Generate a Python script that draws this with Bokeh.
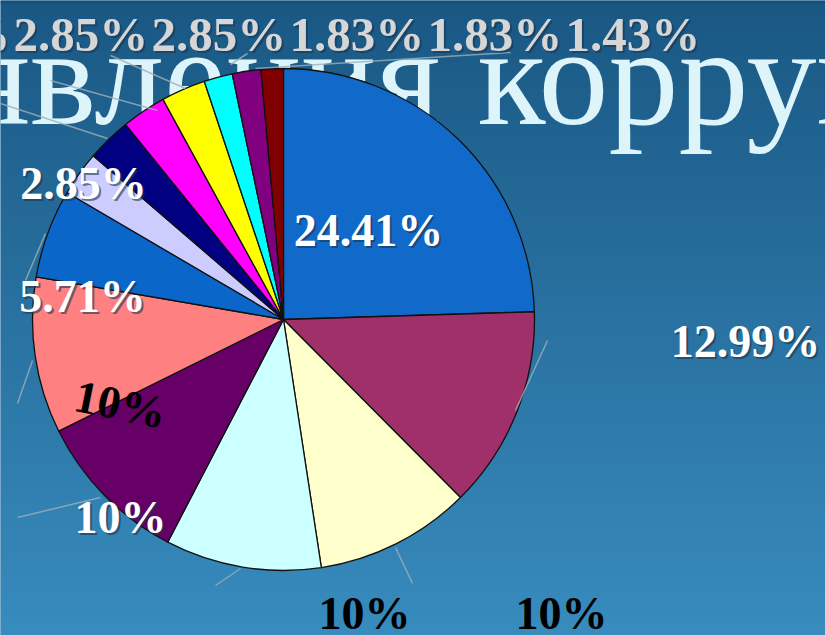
import numpy as np
from bokeh.plotting import figure
from bokeh.models import Range1d
from bokeh.core.properties import value
from bokeh.embed import file_html
from bokeh.resources import INLINE

W, H = 825, 635

# ---- data ----
shares = [24.41, 12.99, 10, 10, 10, 10, 5.71, 2.85, 2.85, 2.85, 2.85, 1.83, 1.83, 1.43]
label_text = ["24.41%", "12.99%", "10%", "10%", "10%", "10%", "5.71%",
              "2.85%", "2.85%", "2.85%", "2.85%", "1.83%", "1.83%", "1.43%"]
colors = ["#1169C9", "#A0306A", "#FFFFCC", "#CCFFFF", "#660066", "#FF8080", "#0A66C8",
          "#CCCCFF", "#000080", "#FF00FF", "#FFFF00", "#00FFFF", "#800080", "#800000"]
title_left = "Проявления"
title_right = "коррупции"

# ---- layout (image coordinates, y downward) ----
cx, cy, R = 283, 319, 251
lab_x = [368, 745, 561, 364, 120, 120, 82, 83, -125, 13, 151, 289, 427, 565]
lab_y = [230, 341, 613, 613, 517, 404, 296, 183, 34, 34, 34, 34, 34, 34]
lab_align = ["center"] * 8 + ["left"] * 6
lab_size = ["46px"] * 8 + ["49px"] * 6
lab_col = ["#FFFFFF", "#FFFFFF", "#000000", "#000000", "#FFFFFF", "#000000", "#FFFFFF",
           "#FFFFFF", "#D6D6D6", "#D6D6D6", "#D6D6D6", "#D6D6D6", "#D6D6D6", "#D6D6D6"]
lab_angle = [0, 0, 0, 0, 0, -0.2, 0, 0, 0, 0, 0, 0, 0, 0]
leaders = [((547, 340), (515, 410)), ((395, 547), (412, 583)), ((240, 568), (215, 585)),
           ((100, 497), (17, 517)), ((32, 360), (17, 403)), ((45, 233), (25, 280)),
           ((107, 138), (0, 103)), ((157, 110), (50, 80)), ((185, 88), (110, 55)),
           ((230, 64), (247, 53)), ((255, 68), (510, 52))]


def Y(v):
    return H - v


p = figure(width=W, height=H, x_range=Range1d(0, W), y_range=Range1d(0, H),
           output_backend="svg", toolbar_location=None, min_border=0)
p.axis.visible = False
p.grid.visible = False
p.outline_line_color = None
p.background_fill_color = "#2A75A8"
p.border_fill_color = "#2A75A8"

# background gradient
n = 256
t = np.linspace(1.0, 0.0, n)[:, None]  # row 0 = bottom
top = np.array([26, 88, 132])
bot = np.array([56, 140, 190])
rgb = (top + (bot - top) * t).astype(np.uint8)
img = np.zeros((n, 2), dtype=np.uint32)
view = img.view(dtype=np.uint8).reshape((n, 2, 4))
view[:, :, 0] = rgb[:, 0:1]
view[:, :, 1] = rgb[:, 1:2]
view[:, :, 2] = rgb[:, 2:3]
view[:, :, 3] = 255
p.image_rgba(image=[img], x=0, y=0, dw=W, dh=H)
p.quad(left=0, right=W, bottom=Y(3), top=H, fill_color="#164E76", line_color=None)

# title (partly hidden, drawn under the pie)
font = value("Liberation Serif")
p.text(x=[440], y=[Y(76)], text=[title_left], text_font=font, text_font_size="140px",
       text_color="#DDF5FA", text_align="right", text_baseline="alphabetic")
p.text(x=[477], y=[Y(76)], text=[title_right], text_font=font, text_font_size="140px",
       text_color="#DDF5FA", text_align="left", text_baseline="alphabetic")

# pie
vals = np.array(shares, dtype=float)
frac = vals / vals.sum()
c1 = np.cumsum(frac)
c0 = c1 - frac
start = np.pi / 2 - 2 * np.pi * c1
end = np.pi / 2 - 2 * np.pi * c0
p.wedge(x=cx, y=Y(cy), radius=R, start_angle=start, end_angle=end, direction="anticlock",
        fill_color=colors, line_color="#111111", line_width=1.3)

# leader lines
p.segment(x0=[a[0] for a, b in leaders], y0=[Y(a[1]) for a, b in leaders],
          x1=[b[0] for a, b in leaders], y1=[Y(b[1]) for a, b in leaders],
          line_color="#9FAFB8", line_width=1.5, line_alpha=0.8)

# labels with soft shadow
shadow = ["#1A3550" if c != "#000000" else None for c in lab_col]
for i in range(len(label_text)):
    if shadow[i]:
        p.text(x=[lab_x[i] + 2], y=[Y(lab_y[i]) - 2], text=[label_text[i]], text_font=font,
               text_font_style="bold", text_font_size=lab_size[i], text_color=shadow[i],
               text_alpha=0.6, text_align=lab_align[i], text_baseline="middle",
               angle=lab_angle[i])
    p.text(x=[lab_x[i]], y=[Y(lab_y[i])], text=[label_text[i]], text_font=font,
           text_font_style="bold", text_font_size=lab_size[i], text_color=lab_col[i],
           text_align=lab_align[i], text_baseline="middle", angle=lab_angle[i])

open("out.html", "w").write(file_html(p, INLINE))
